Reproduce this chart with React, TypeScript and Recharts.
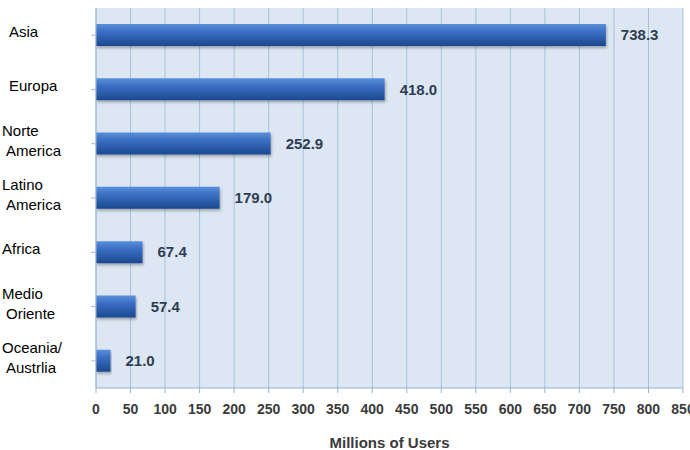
import { BarChart, Bar, XAxis, YAxis, CartesianGrid, LabelList } from 'recharts';

const REGIONS = [
  'Asia',
  'Europa',
  'Norte\nAmerica',
  'Latino\nAmerica',
  'Africa',
  'Medio\nOriente',
  'Oceania/\nAustrlia',
];
const USERS = [738.3, 418.0, 252.9, 179.0, 67.4, 57.4, 21.0];
const X_TICKS = [0, 50, 100, 150, 200, 250, 300, 350, 400, 450, 500, 550, 600, 650, 700, 750, 800, 850];

const data = REGIONS.map((region, i) => ({ region, users: USERS[i] }));

const FONT = '"Liberation Sans", Arial, sans-serif';

// multi-line category labels, single words sit a bit further right like the original
function RegionTick(props: any) {
  const { y, payload } = props;
  const lines = String(payload.value).split('\n');
  const lh = 20;
  const startY = y - ((lines.length - 1) * lh) / 2 - 2;
  const x0 = lines.length === 1 && payload.index < 2 ? 9 : 2;
  return (
    <text x={x0} y={startY} fontSize={15} fontFamily={FONT} fill="#000" dominantBaseline="middle">
      {lines.map((l, i) => (
        <tspan key={i} x={i > 0 ? x0 + 4 : x0} y={startY + i * lh} dominantBaseline="middle">
          {l}
        </tspan>
      ))}
    </text>
  );
}

export default function App() {
  return (
    <div style={{ position: 'absolute', left: 0, top: 0, width: 690, height: 450, background: '#fff' }}>
      <BarChart
        width={690}
        height={450}
        data={data}
        layout="vertical"
        margin={{ top: 8, right: 7, bottom: 0, left: 0 }}
        barCategoryGap={0}
      >
        <defs>
          <linearGradient id="barBlue" x1="0" y1="0" x2="0" y2="1">
            <stop offset="0%" stopColor="#5a90da" />
            <stop offset="35%" stopColor="#3a6fc3" />
            <stop offset="100%" stopColor="#1c4890" />
          </linearGradient>
          <filter id="barShadow" x="-5%" y="-20%" width="110%" height="160%">
            <feDropShadow dx="1" dy="2" stdDeviation="1.5" floodColor="#000" floodOpacity="0.3" />
          </filter>
        </defs>
        <CartesianGrid horizontal={false} stroke="#a9c0de" fill="#dde7f3" />
        <XAxis
          type="number"
          domain={[0, 850]}
          ticks={X_TICKS}
          interval={0}
          height={62}
          stroke="#94b1d6"
          tickSize={5}
          tick={{ fill: '#3a3a3a', fontSize: 14, fontWeight: 700, fontFamily: FONT }}
          tickMargin={11}
          label={{
            value: 'Millions of Users',
            position: 'insideBottom',
            offset: 2,
            fill: '#3a3a3a',
            fontSize: 15,
            fontWeight: 700,
            fontFamily: FONT,
          }}
        />
        <YAxis
          type="category"
          dataKey="region"
          width={96}
          stroke="#a3b8d2"
          tickSize={5}
          tick={<RegionTick />}
        />
        <Bar
          dataKey="users"
          barSize={22}
          fill="url(#barBlue)"
          filter="url(#barShadow)"
          isAnimationActive={false}
        >
          <LabelList
            dataKey="users"
            position="right"
            offset={15}
            formatter={(v: any) => Number(v).toFixed(1)}
            style={{ fill: '#2e3d52', fontSize: 15, fontWeight: 700, fontFamily: FONT }}
          />
        </Bar>
      </BarChart>
    </div>
  );
}
